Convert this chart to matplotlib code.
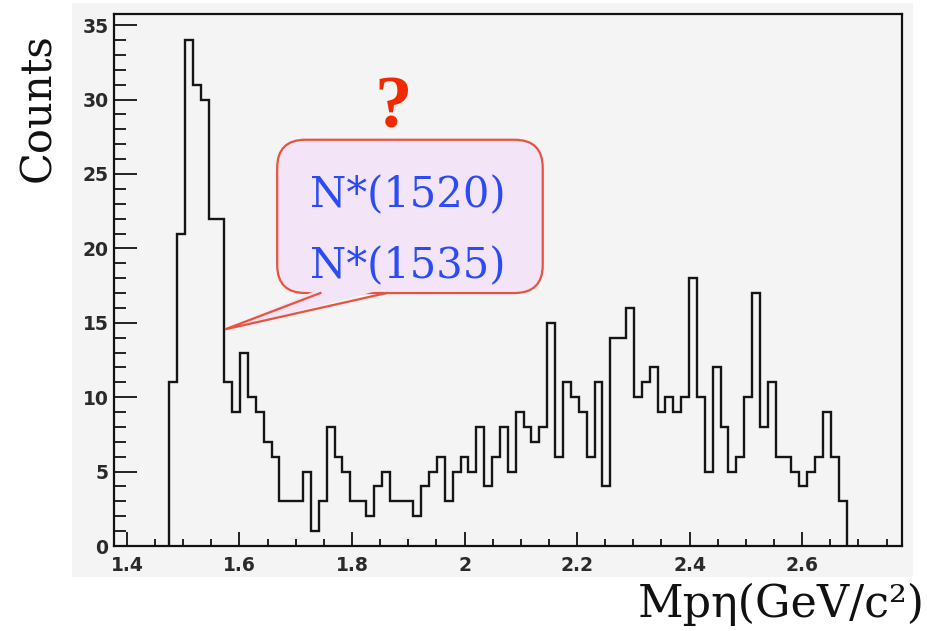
import numpy as np
import matplotlib
matplotlib.use("Agg")
import matplotlib.pyplot as plt
from matplotlib.patches import FancyBboxPatch, Polygon, Rectangle
from matplotlib.ticker import MultipleLocator, FuncFormatter

# p-eta invariant mass histogram, 86 bins of 14 MeV
counts = [11, 21, 34, 31, 30, 22, 22, 11, 9, 13, 10, 9, 7, 6, 3, 3, 3, 5, 1, 3,
          8, 6, 5, 3, 3, 2, 4, 5, 3, 3, 3, 2, 4, 5, 6, 3, 5, 6, 5, 8,
          4, 6, 8, 5, 9, 8, 7, 8, 15, 6, 11, 10, 9, 6, 11, 4, 14, 14, 16, 10,
          11, 12, 9, 10, 9, 10, 18, 10, 5, 12, 8, 5, 6, 10, 17, 8, 11, 6, 6, 5,
          4, 5, 6, 9, 6, 3]
bin_start = 1.475
bin_width = 0.014
edges = bin_start + bin_width * np.arange(len(counts) + 1)

x_range = (1.377, 2.777)
y_range = (0, 35.75)

callout_lines = ["N*(1520)", "N*(1535)"]
callout_tip = (1.5744, 14.56)   # right edge of the 1.56 GeV bin

bg = "#f4f4f4"
red = "#e8533f"

fig = plt.figure(figsize=(9.27, 6.31), dpi=100)
# grey canvas behind the frame
fig.patches.append(Rectangle((0.0777, 0.0856), 0.9072, 0.9097, transform=fig.transFigure,
                             facecolor=bg, edgecolor="none", zorder=-1))

ax = fig.add_axes([0.123, 0.1347, 0.8497, 0.8431])
ax.set_facecolor(bg)
ax.stairs(counts, edges, color="#151515", linewidth=1.7, zorder=2)
ax.set_xlim(*x_range)
ax.set_ylim(*y_range)

ax.xaxis.set_major_locator(MultipleLocator(0.2))
ax.xaxis.set_minor_locator(MultipleLocator(0.05))
ax.yaxis.set_major_locator(MultipleLocator(5))
ax.yaxis.set_minor_locator(MultipleLocator(1))
ax.xaxis.set_major_formatter(FuncFormatter(lambda v, p: "%g" % round(v, 2)))
ax.yaxis.set_major_formatter(FuncFormatter(lambda v, p: "%d" % v))

ax.tick_params(which="both", direction="in", top=False, right=False, color="#111111")
ax.tick_params(axis="y", which="major", length=16.5, width=1.3, pad=4, labelsize=13.5)
ax.tick_params(axis="y", which="minor", length=8.5, width=1.3)
ax.tick_params(axis="x", which="major", length=10, width=1.3, pad=7, labelsize=13.5)
ax.tick_params(axis="x", which="minor", length=4.7, width=1.3)
for lab in ax.get_xticklabels() + ax.get_yticklabels():
    lab.set_color("#2a2a2a")
    lab.set_fontweight("bold")
for sp in ax.spines.values():
    sp.set_linewidth(1.6)
    sp.set_color("#111111")

# callout box, corners kept round in pixel space
p0 = ax.transData.transform((0, 0))
p1 = ax.transData.transform((1, 1))
aspect = (p1[0] - p0[0]) / (p1[1] - p0[1])

box_x0, box_x1 = 1.667, 2.139
box_y0, box_y1 = 17.0, 27.3
box = FancyBboxPatch((box_x0, box_y0), box_x1 - box_x0, box_y1 - box_y0,
                     boxstyle="round,pad=0,rounding_size=0.05", mutation_aspect=aspect,
                     facecolor="#f4e4f7", edgecolor=red, linewidth=1.6, zorder=3)
ax.add_patch(box)

base_l, base_r = 1.7437, 1.8616
wedge = Polygon([callout_tip, (base_l, box_y0 + 0.3), (base_r, box_y0 + 0.3)],
                closed=True, facecolor="#f4e4f7", edgecolor="none", zorder=4)
ax.add_patch(wedge)
ax.plot([base_l, callout_tip[0], base_r], [box_y0, callout_tip[1], box_y0],
        color=red, linewidth=1.6, zorder=5, solid_joinstyle="miter")

ax.text(1.7249, 22.78, callout_lines[0], ha="left", va="baseline", fontsize=30,
        family="DejaVu Serif", color="#2b4cf2", zorder=6)
ax.text(1.7249, 17.99, callout_lines[1], ha="left", va="baseline", fontsize=30,
        family="DejaVu Serif", color="#2b4cf2", zorder=6)
ax.text(1.873, 28.1, "?", ha="center", va="baseline", fontsize=54, fontweight="bold",
        family="Liberation Serif", color="#ee2a00", zorder=6)

fig.text(0.041, 0.83, "Counts", rotation=90, ha="center", va="center",
         fontsize=30, family="DejaVu Serif", color="#111111")
fig.text(0.998, 0.022, "Mpη(GeV/c²)", ha="right", va="baseline",
         fontsize=32, family="DejaVu Serif", color="#111111")

fig.savefig("out.png", dpi=100)
